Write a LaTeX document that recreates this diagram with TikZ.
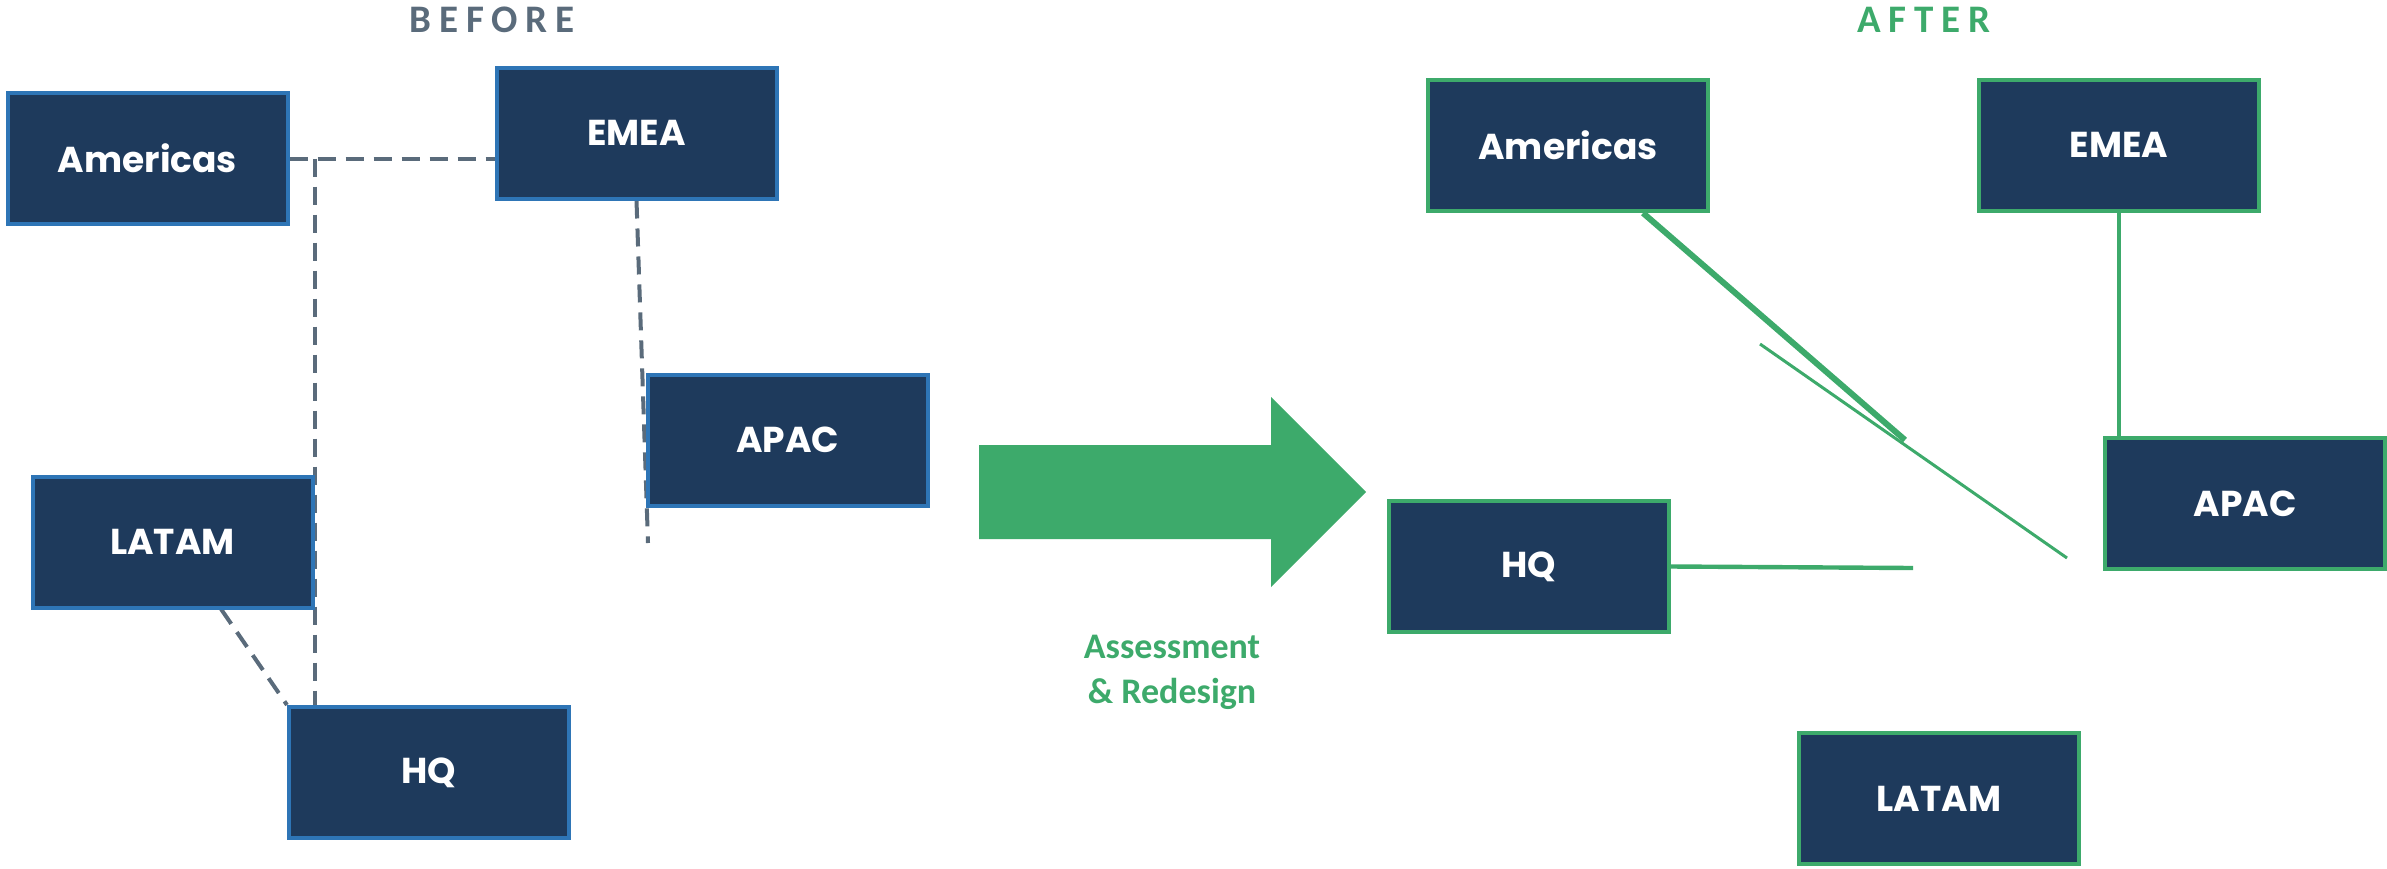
\documentclass[tikz,border=0pt]{standalone}
\usepackage{fontspec}
\setmainfont{Carlito}
\newfontfamily\boxfont{Poppins}
\newfontfamily\headfont[LetterSpace=20]{Carlito}
\usetikzlibrary{backgrounds}
\definecolor{navy}{HTML}{1E3A5C}
\definecolor{oldblue}{HTML}{2E75B6}
\definecolor{newgreen}{HTML}{3DAA6B}
\definecolor{slate}{HTML}{5A6B7B}
\begin{document}
\begin{tikzpicture}[x=0.5pt,y=-0.5pt,
  region/.style={fill=navy,line width=2pt,minimum width=140pt,minimum height=65.5pt,
    text=white,font=\boxfont\bfseries\fontsize{18}{20}\selectfont},
  old/.style={region,draw=oldblue},
  new/.style={region,draw=newgreen},
  head/.style={font=\headfont\bfseries\fontsize{19.5}{22}\selectfont},
  link/.style={slate,line width=2pt,dash pattern=on 9pt off 5pt},
  tie/.style={newgreen,line width=2.2pt}]
\useasboundingbox (0,0) rectangle (2387,868);
% before
\node[head,text=slate] (before) at (492,19.5) {BEFORE};
\node[old] (oAm) at (147.5,158.5) {Americas};
\node[old] (oEm) at (636.5,133) {EMEA};
\node[old] (oAp) at (787.5,440) {APAC};
\node[old] (oLa) at (172.5,542) {LATAM};
\node[old] (oHq) at (429,772.5) {HQ};
\coordinate (laFoot) at (221,609);
\coordinate (emTail) at (648,543);
\begin{scope}[on background layer]
\draw[link] (oAm.east) -- (oAm.east -| oEm.west);
\draw[link] (oLa.east |- oAm.east) -- (oLa.east |- oHq.north);
\draw[link] (laFoot) -- (oHq.north west);
\draw[link] (oEm.south) -- (emTail);
\end{scope}
% change
\fill[newgreen] (979,445) -- (1271,445) -- (1271,397) -- (1366,492) -- (1271,587) -- (1271,539) -- (979,539) -- cycle;
\node[text=newgreen,font=\bfseries\fontsize{18}{22.5}\selectfont,align=center] (redo) at (1172,672) {Assessment\\\& Redesign};
% after
\node[head,text=newgreen] (after) at (1924,19.5) {AFTER};
\node[new] (nAm) at (1568,145) {Americas};
\node[new] (nEm) at (2119,145) {EMEA};
\node[new] (nHq) at (1529,566.5) {HQ};
\node[new] (nAp) at (2245,503.5) {APAC};
\node[new] (nLa) at (1939,798.5) {LATAM};
\coordinate (amFoot) at (1643,213);
\coordinate (amEnd) at (1905,440);
\coordinate (thinA) at (1760,344);
\coordinate (thinB) at (2067,558);
\coordinate (hqEnd) at (1913,568);
\draw[tie] (nEm.south) -- (nEm.south |- nAp.north);
\draw[tie,line width=3pt] (amFoot) -- (amEnd);
\draw[tie,line width=1.5pt] (thinA) -- (thinB);
\draw[tie] (nHq.east) -- (hqEnd);
\end{tikzpicture}
\end{document}
